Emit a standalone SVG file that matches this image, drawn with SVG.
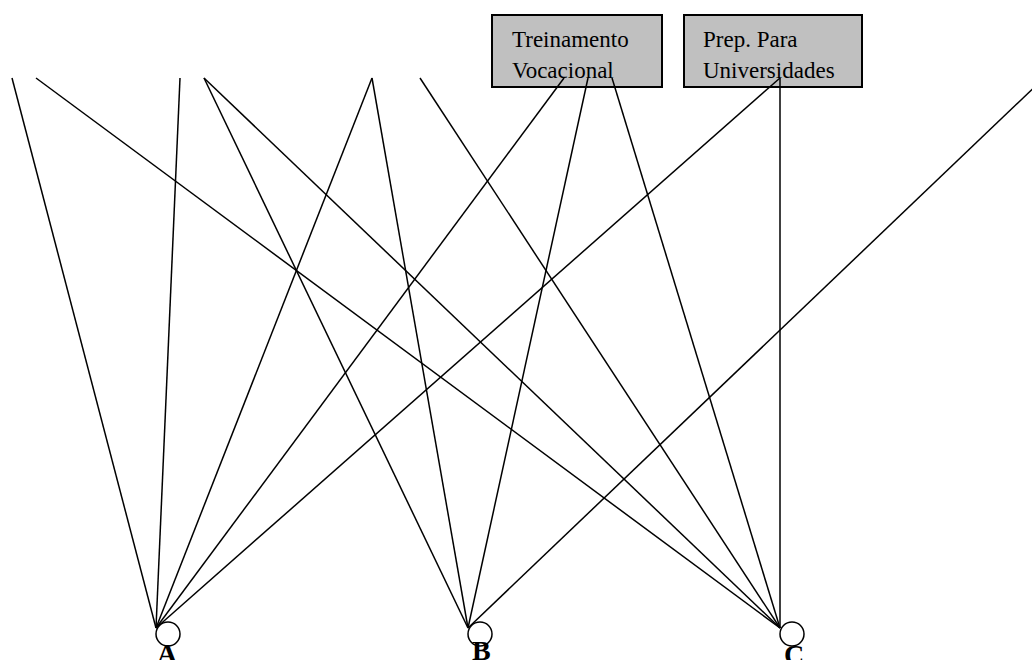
<svg xmlns="http://www.w3.org/2000/svg" width="1032" height="660" viewBox="0 0 1032 660">
<style>
.box{fill:#c0c0c0;stroke:#000;stroke-width:2}
.bt{font-family:"Liberation Serif",serif;font-size:23px;fill:#000}
.conn line{stroke:#000;stroke-width:1.5}
.nd{fill:#fff;stroke:#000;stroke-width:1.5}
.lb{font-family:"Liberation Serif",serif;font-size:28px;font-weight:bold;fill:#000}
</style>
<rect width="1032" height="660" fill="#fff"/>
<g id="treinamento">
<rect class="box" x="492" y="15" width="170" height="72"/>
<text class="bt" x="512" y="47">Treinamento</text>
<text class="bt" x="512" y="78">Vocacional</text>
</g>
<g id="prep">
<rect class="box" x="684" y="15" width="178" height="72"/>
<text class="bt" x="703" y="47">Prep. Para</text>
<text class="bt" x="703" y="78">Universidades</text>
</g>
<g id="connectors" class="conn">
<line x1="12" y1="78" x2="156" y2="628"/>
<line x1="180" y1="78" x2="156" y2="628"/>
<line x1="372" y1="78" x2="156" y2="628"/>
<line x1="564" y1="78" x2="156" y2="628"/>
<line x1="780" y1="78" x2="156" y2="628"/>
<line x1="204" y1="78" x2="468" y2="628"/>
<line x1="372" y1="78" x2="468" y2="628"/>
<line x1="588" y1="78" x2="468" y2="628"/>
<line x1="1044" y1="78" x2="468" y2="628"/>
<line x1="36" y1="78" x2="780" y2="628"/>
<line x1="204" y1="78" x2="780" y2="628"/>
<line x1="420" y1="78" x2="780" y2="628"/>
<line x1="612" y1="78" x2="780" y2="628"/>
<line x1="780" y1="78" x2="780" y2="628"/>
</g>
<g id="nodeA">
<circle class="nd" cx="168" cy="634" r="12"/>
<text class="lb" x="157" y="663">A</text>
</g>
<g id="nodeB">
<circle class="nd" cx="480" cy="634" r="12"/>
<text class="lb" x="472" y="660">B</text>
</g>
<g id="nodeC">
<circle class="nd" cx="792" cy="634" r="12"/>
<text class="lb" x="784" y="664">C</text>
</g>
</svg>
